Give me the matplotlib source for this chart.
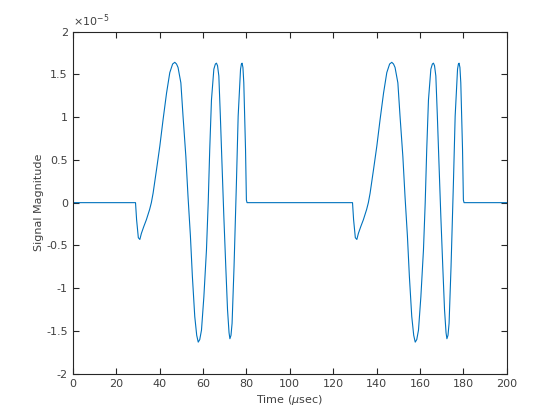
import matplotlib
matplotlib.use("Agg")
import matplotlib.pyplot as plt
from matplotlib.ticker import FuncFormatter, MultipleLocator

# Time in microseconds, signal in units of 1e-5
time_us = [0, 28.9, 29.4, 30.2, 30.9, 31.6, 32.7, 33.9, 35.4, 36.2, 37.0,
           38.6, 40.1, 41.6, 43.2, 44.7, 46.0, 47.0, 47.8, 48.5, 49.8, 50.8,
           52.1, 53.1, 54.2, 55.1, 56.2, 57.1, 57.8, 58.5, 59.3, 60.4, 61.6,
           62.4, 63.1, 63.9, 65.0, 65.7, 66.2, 66.7, 67.3, 68.0, 68.8, 69.6,
           70.5, 71.3, 72.0, 72.4, 72.9, 73.4, 74.3, 75.4, 76.2, 77.3, 77.7,
           78.0, 78.4, 78.8, 79.6, 80.0, 80.3,
           128.9, 129.4, 130.2, 130.9, 131.6, 132.7, 133.9, 135.4, 136.2, 137.0,
           138.6, 140.1, 141.6, 143.2, 144.7, 146.0, 147.0, 147.8, 148.5, 149.8,
           150.8, 152.1, 153.1, 154.2, 155.1, 156.2, 157.1, 157.8, 158.5, 159.3,
           160.4, 161.6, 162.4, 163.1, 163.9, 165.0, 165.7, 166.2, 166.7, 167.3,
           168.0, 168.8, 169.6, 170.5, 171.3, 172.0, 172.4, 172.9, 173.4, 174.3,
           175.4, 176.2, 177.3, 177.7, 178.0, 178.4, 178.8, 179.6, 180.0, 180.3,
           200]
signal_e5 = [0, 0, -0.20, -0.41, -0.43, -0.36, -0.28, -0.20, -0.08, 0.0, 0.11,
             0.39, 0.66, 0.97, 1.28, 1.52, 1.62, 1.64, 1.62, 1.58, 1.40, 1.01,
             0.54, 0.07, -0.39, -0.86, -1.33, -1.55, -1.63, -1.60, -1.49, -1.10, -0.55,
             0.0, 0.62, 1.20, 1.56, 1.62, 1.63, 1.60, 1.48, 1.01, 0.42, -0.16,
             -0.75, -1.25, -1.52, -1.59, -1.55, -1.41, -0.75, 0.23, 1.01, 1.56, 1.62,
             1.63, 1.58, 1.40, 0.62, 0.03, 0,
             0, -0.20, -0.41, -0.43, -0.36, -0.28, -0.20, -0.08, 0.0, 0.11,
             0.39, 0.66, 0.97, 1.28, 1.52, 1.62, 1.64, 1.62, 1.58, 1.40,
             1.01, 0.54, 0.07, -0.39, -0.86, -1.33, -1.55, -1.63, -1.60, -1.49,
             -1.10, -0.55, 0.0, 0.62, 1.20, 1.56, 1.62, 1.63, 1.60, 1.48,
             1.01, 0.42, -0.16, -0.75, -1.25, -1.52, -1.59, -1.55, -1.41, -0.75,
             0.23, 1.01, 1.56, 1.62, 1.63, 1.58, 1.40, 0.62, 0.03, 0,
             0]
signal = [v * 1e-5 for v in signal_e5]

plt.rcParams['font.family'] = ['DejaVu Sans']
plt.rcParams['axes.unicode_minus'] = False

fig = plt.figure(figsize=(5.6, 4.2), dpi=100)
ax = fig.add_axes([0.13, 0.11, 0.775, 0.815])
ax.plot(time_us, signal, color='#0072BD', linewidth=0.8)

ax.set_xlim(0, 200)
ax.set_ylim(-2e-5, 2e-5)
ax.xaxis.set_major_locator(MultipleLocator(20))
ax.yaxis.set_major_locator(MultipleLocator(0.5e-5))
ax.yaxis.set_major_formatter(FuncFormatter(lambda v, p: '%g' % round(v / 1e-5, 3)))

tc = '#262626'
for s in ax.spines.values():
    s.set_color(tc)
    s.set_linewidth(0.8)
ax.tick_params(direction='in', top=True, right=True, length=4, width=0.8,
               colors=tc, labelsize=8, labelcolor='#404040')
ax.set_xlabel('Time ($\\mu$sec)', fontsize=8, color='#404040', labelpad=3)
ax.set_ylabel('Signal Magnitude', fontsize=8, color='#404040', labelpad=2)
ax.text(0.0, 1.008, '$\\times10^{-5}$', transform=ax.transAxes, fontsize=8,
        color='#404040', ha='left', va='bottom')

fig.savefig('out.png', dpi=100)
